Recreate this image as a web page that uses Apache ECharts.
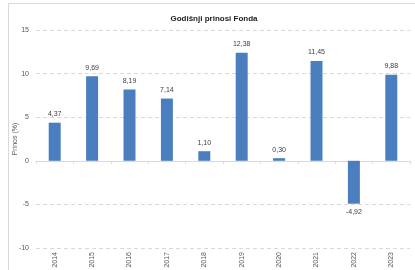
<!DOCTYPE html>
<html><head><meta charset="utf-8">
<script src="https://cdn.jsdelivr.net/npm/echarts@6/dist/echarts.min.js"></script>
<style>html,body{margin:0;padding:0;background:#fff;}#c{width:415px;height:270px;}</style>
</head><body><div id="c"></div>
<script>
const categories = ['2014','2015','2016','2017','2018','2019','2020','2021','2022','2023'];
const values = [4.37, 9.69, 8.19, 7.14, 1.10, 12.38, 0.30, 11.45, -4.92, 9.88];
const yTicks = [-10, -5, 0, 5, 10, 15];
const titleText = 'Godišnji prinosi Fonda';
const yName = 'Prinos (%)';

const chart = echarts.init(document.getElementById('c'), null, {renderer:'canvas'});
const font = 'Liberation Sans, Arial, sans-serif';
chart.setOption({
  animation: false,
  textStyle: {fontFamily: font},
  graphic: [{type:'rect', shape:{x:8.5,y:3.5,width:430,height:300}, style:{fill:'none', stroke:'#d9d9d9', lineWidth:1}, silent:true}],
  title: {text: titleText, left: 209, textAlign:'center', top: 10, textStyle:{fontSize:8, fontWeight:'bold', color:'#222', fontFamily: font}},
  grid: {left: 36, right: 5, top: 30, bottom: 22, containLabel:false, outerBoundsMode:'none'},
  xAxis: [{
    type:'category', data: categories,
    axisLine:{onZero:true, lineStyle:{color:'#d9d9d9'}},
    axisTick:{show:true, length:3, lineStyle:{color:'#d9d9d9'}},
    axisLabel:{show:false}, splitLine:{show:false}
  },{
    type:'category', data: categories, position:'bottom',
    axisLine:{show:false, onZero:false}, axisTick:{show:false},
    axisLabel:{rotate:90, fontSize:7, color:'#595959', margin:4, fontFamily: font}
  }],
  yAxis: {
    type:'value', min: yTicks[0], max: yTicks[yTicks.length-1], interval: 5,
    name: yName, nameLocation:'middle', nameGap: 17, nameRotate: 90, nameMoveOverlap:false,
    nameTextStyle:{fontSize:7, color:'#595959', fontFamily: font},
    axisLine:{show:false}, axisTick:{show:false},
    axisLabel:{fontSize:7, color:'#595959', margin:7, fontFamily: font},
    splitLine:{lineStyle:{color:'#d9d9d9', type:[4,3]}}
  },
  series: [{
    type:'bar', data: values, xAxisIndex:0, barWidth:'32%',
    itemStyle:{color:'#4a7ebf'},
    label:{show:true, position:'outside', fontSize:7, color:'#404040', distance:5, fontFamily: font,
      formatter: p => p.value.toFixed(2).replace('.', ',')}
  }]
});
</script></body></html>
